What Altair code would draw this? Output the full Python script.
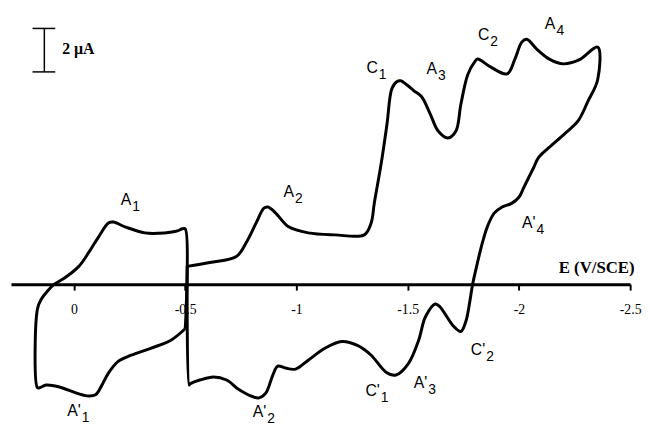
import altair as alt
import pandas as pd

# ---- data (E in V vs SCE, current in µA) ----
left_E = [-0.500, -0.434, -0.345, -0.257, -0.199, -0.155, -0.124, -0.097, -0.058, -0.009,
          0.066, 0.124, 0.155, 0.164, 0.164, 0.146, 0.119, 0.088, 0.044, -0.022,
          -0.066, -0.111, -0.155, -0.177, -0.230, -0.319, -0.407, -0.465, -0.487, -0.500, -0.500]
left_I = [-2.05, -2.59, -2.95, -3.27, -3.55, -4.09, -4.68, -5.09, -5.14, -5.00,
          -4.73, -4.64, -4.77, -4.77, -1.14, -0.68, -0.32, 0.00, 0.27, 0.82,
          1.45, 2.18, 2.82, 2.86, 2.64, 2.36, 2.36, 2.45, 2.55, 2.55, -2.05]

right_E = [-0.509, -0.611, -0.730, -0.774, -0.819, -0.854, -0.872, -0.907, -0.965, -1.053,
           -1.173, -1.305, -1.336, -1.350, -1.381, -1.407, -1.429, -1.451, -1.469, -1.496,
           -1.527, -1.562, -1.602, -1.637, -1.681, -1.717, -1.739, -1.770, -1.801, -1.814,
           -1.872, -1.947, -1.982, -2.013, -2.035, -2.080, -2.137, -2.199, -2.270, -2.354,
           -2.354, -2.310, -2.265, -2.204, -2.133, -2.088, -2.066, -2.044, -2.022, -2.000,
           -1.969, -1.925, -1.889, -1.858, -1.836, -1.814, -1.792, -1.779, -1.761, -1.739,
           -1.704, -1.673, -1.646, -1.624, -1.580, -1.549, -1.504, -1.447, -1.403, -1.336,
           -1.274, -1.204, -1.128, -1.053, -0.996, -0.951, -0.916, -0.894, -0.863, -0.832,
           -0.805, -0.743, -0.686, -0.628, -0.566, -0.522, -0.518, -0.509]
right_I = [0.82, 1.00, 1.27, 1.91, 2.82, 3.50, 3.55, 3.27, 2.64, 2.36,
           2.27, 2.27, 2.82, 3.73, 5.55, 7.36, 9.00, 9.32, 9.36, 9.18,
           8.91, 8.64, 7.82, 7.05, 6.73, 7.05, 8.27, 9.64, 10.23, 10.36,
           10.00, 9.68, 10.36, 11.14, 11.27, 10.82, 10.36, 10.14, 10.32, 10.91,
           9.41, 8.41, 7.50, 6.91, 6.27, 5.82, 5.36, 4.91, 4.45, 4.00,
           3.73, 3.55, 3.27, 2.64, 1.91, 1.00, 0.00, -0.82, -1.73, -2.18,
           -1.91, -1.45, -1.05, -0.91, -1.50, -2.59, -3.64, -4.18, -4.05, -3.27,
           -2.82, -2.64, -2.95, -3.50, -3.91, -3.86, -3.77, -4.18, -5.00, -5.23,
           -5.18, -4.86, -4.41, -4.27, -4.41, -4.59, -4.64, 0.82]

# peak labels
lab_main = ["A", "A", "C", "A", "C", "A", "A'", "A'", "C'", "A'", "C'", "A'"]
lab_sub = ["1", "2", "1", "3", "2", "4", "1", "2", "1", "3", "2", "4"]
lab_E = [-0.258, -0.989, -1.366, -1.632, -1.867, -2.164, -0.031, -0.865, -1.375, -1.588, -1.849, -2.075]
lab_I = [3.64, 4.00, 9.73, 9.68, 11.23, 11.73, -6.05, -6.10, -5.14, -4.77, -3.27, 2.59]

# 2 µA scale bar
bar_E = [0.133]
bar_cap_E = [0.186, 0.084]
bar_I = [9.77, 11.77]
bar_text = ["2 µA"]
bar_text_E = [0.053]
bar_text_I = [10.82]

tick_values = [0, -0.5, -1, -1.5, -2, -2.5]

assert len(left_E) == len(left_I) and len(right_E) == len(right_I)

# ---- tables ----
curve = pd.DataFrame({
    "E": left_E + right_E,
    "I": left_I + right_I,
    "loop": ["L"] * len(left_E) + ["R"] * len(right_E),
    "idx": list(range(len(left_E))) + list(range(len(right_E))),
})
labels = pd.DataFrame({"E": lab_E, "I": lab_I, "main": lab_main, "sub": lab_sub})
bar_v = pd.DataFrame({"E": bar_E, "I": [bar_I[0]], "I2": [bar_I[1]]})
bar_c = pd.DataFrame({"E": [bar_cap_E[0]] * 2, "E2": [bar_cap_E[1]] * 2, "I": bar_I})
bar_t = pd.DataFrame({"E": bar_text_E, "I": bar_text_I, "t": bar_text})

# ---- layout ----
W, H = 627, 422
x_dom = [0.283, -2.5]
y_dom = [-6.59, 12.59]
axis_offset = -H * (0 - y_dom[0]) / (y_dom[1] - y_dom[0])

xscale = alt.Scale(domain=x_dom, nice=False, zero=False)
yscale = alt.Scale(domain=y_dom, nice=False, zero=False)

xaxis = alt.Axis(
    values=tick_values,
    labelExpr="datum.value == 0 ? '0' : '' + datum.value",
    grid=False, domainWidth=3, domainColor="black",
    tickColor="black", tickWidth=2, tickSize=6,
    labelFont="Liberation Serif", labelFontSize=14, labelColor="black",
    labelPadding=13, labelFlush=False, labelOverlap=False,
    offset=axis_offset,
    title="E (V/SCE)", titleX=631, titleY=-12, titleAlign="right",
    titleBaseline="alphabetic", titleFont="Liberation Serif",
    titleFontSize=17, titleFontWeight="bold", titleColor="black", titleAngle=0,
)

X = lambda f="E": alt.X(f"{f}:Q", scale=xscale, axis=xaxis)
Y = lambda f="I": alt.Y(f"{f}:Q", scale=yscale, axis=None)

line = alt.Chart(curve).mark_line(
    interpolate="catmull-rom", strokeWidth=3, color="black", strokeJoin="round"
).encode(x=X(), y=Y(), detail="loop:N", order=alt.Order("idx:Q"))

main_txt = alt.Chart(labels).mark_text(
    align="right", baseline="alphabetic", font="Liberation Sans", fontSize=16, color="black"
).encode(x=X(), y=Y(), text="main:N")

sub_txt = alt.Chart(labels).mark_text(
    align="left", baseline="alphabetic", font="Liberation Sans", fontSize=14, color="black",
    dx=1, dy=6
).encode(x=X(), y=Y(), text="sub:N")

bar_line = alt.Chart(bar_v).mark_rule(color="black", strokeWidth=1.5).encode(
    x=X(), y=Y(), y2=alt.Y2("I2:Q"))
bar_caps = alt.Chart(bar_c).mark_rule(color="black", strokeWidth=1.5).encode(
    x=X(), x2=alt.X2("E2:Q"), y=Y())
bar_label = alt.Chart(bar_t).mark_text(
    align="left", baseline="middle", font="Liberation Serif", fontSize=16,
    fontWeight="bold", color="black"
).encode(x=X(), y=Y(), text="t:N")

chart = alt.layer(line, main_txt, sub_txt, bar_line, bar_caps, bar_label).properties(
    width=W, height=H,
    padding={"left": 3, "top": 0, "right": 0, "bottom": 0},
    background="white",
).configure_view(stroke=None)

chart.save("out.html", embed_options={"renderer": "svg", "actions": False})
